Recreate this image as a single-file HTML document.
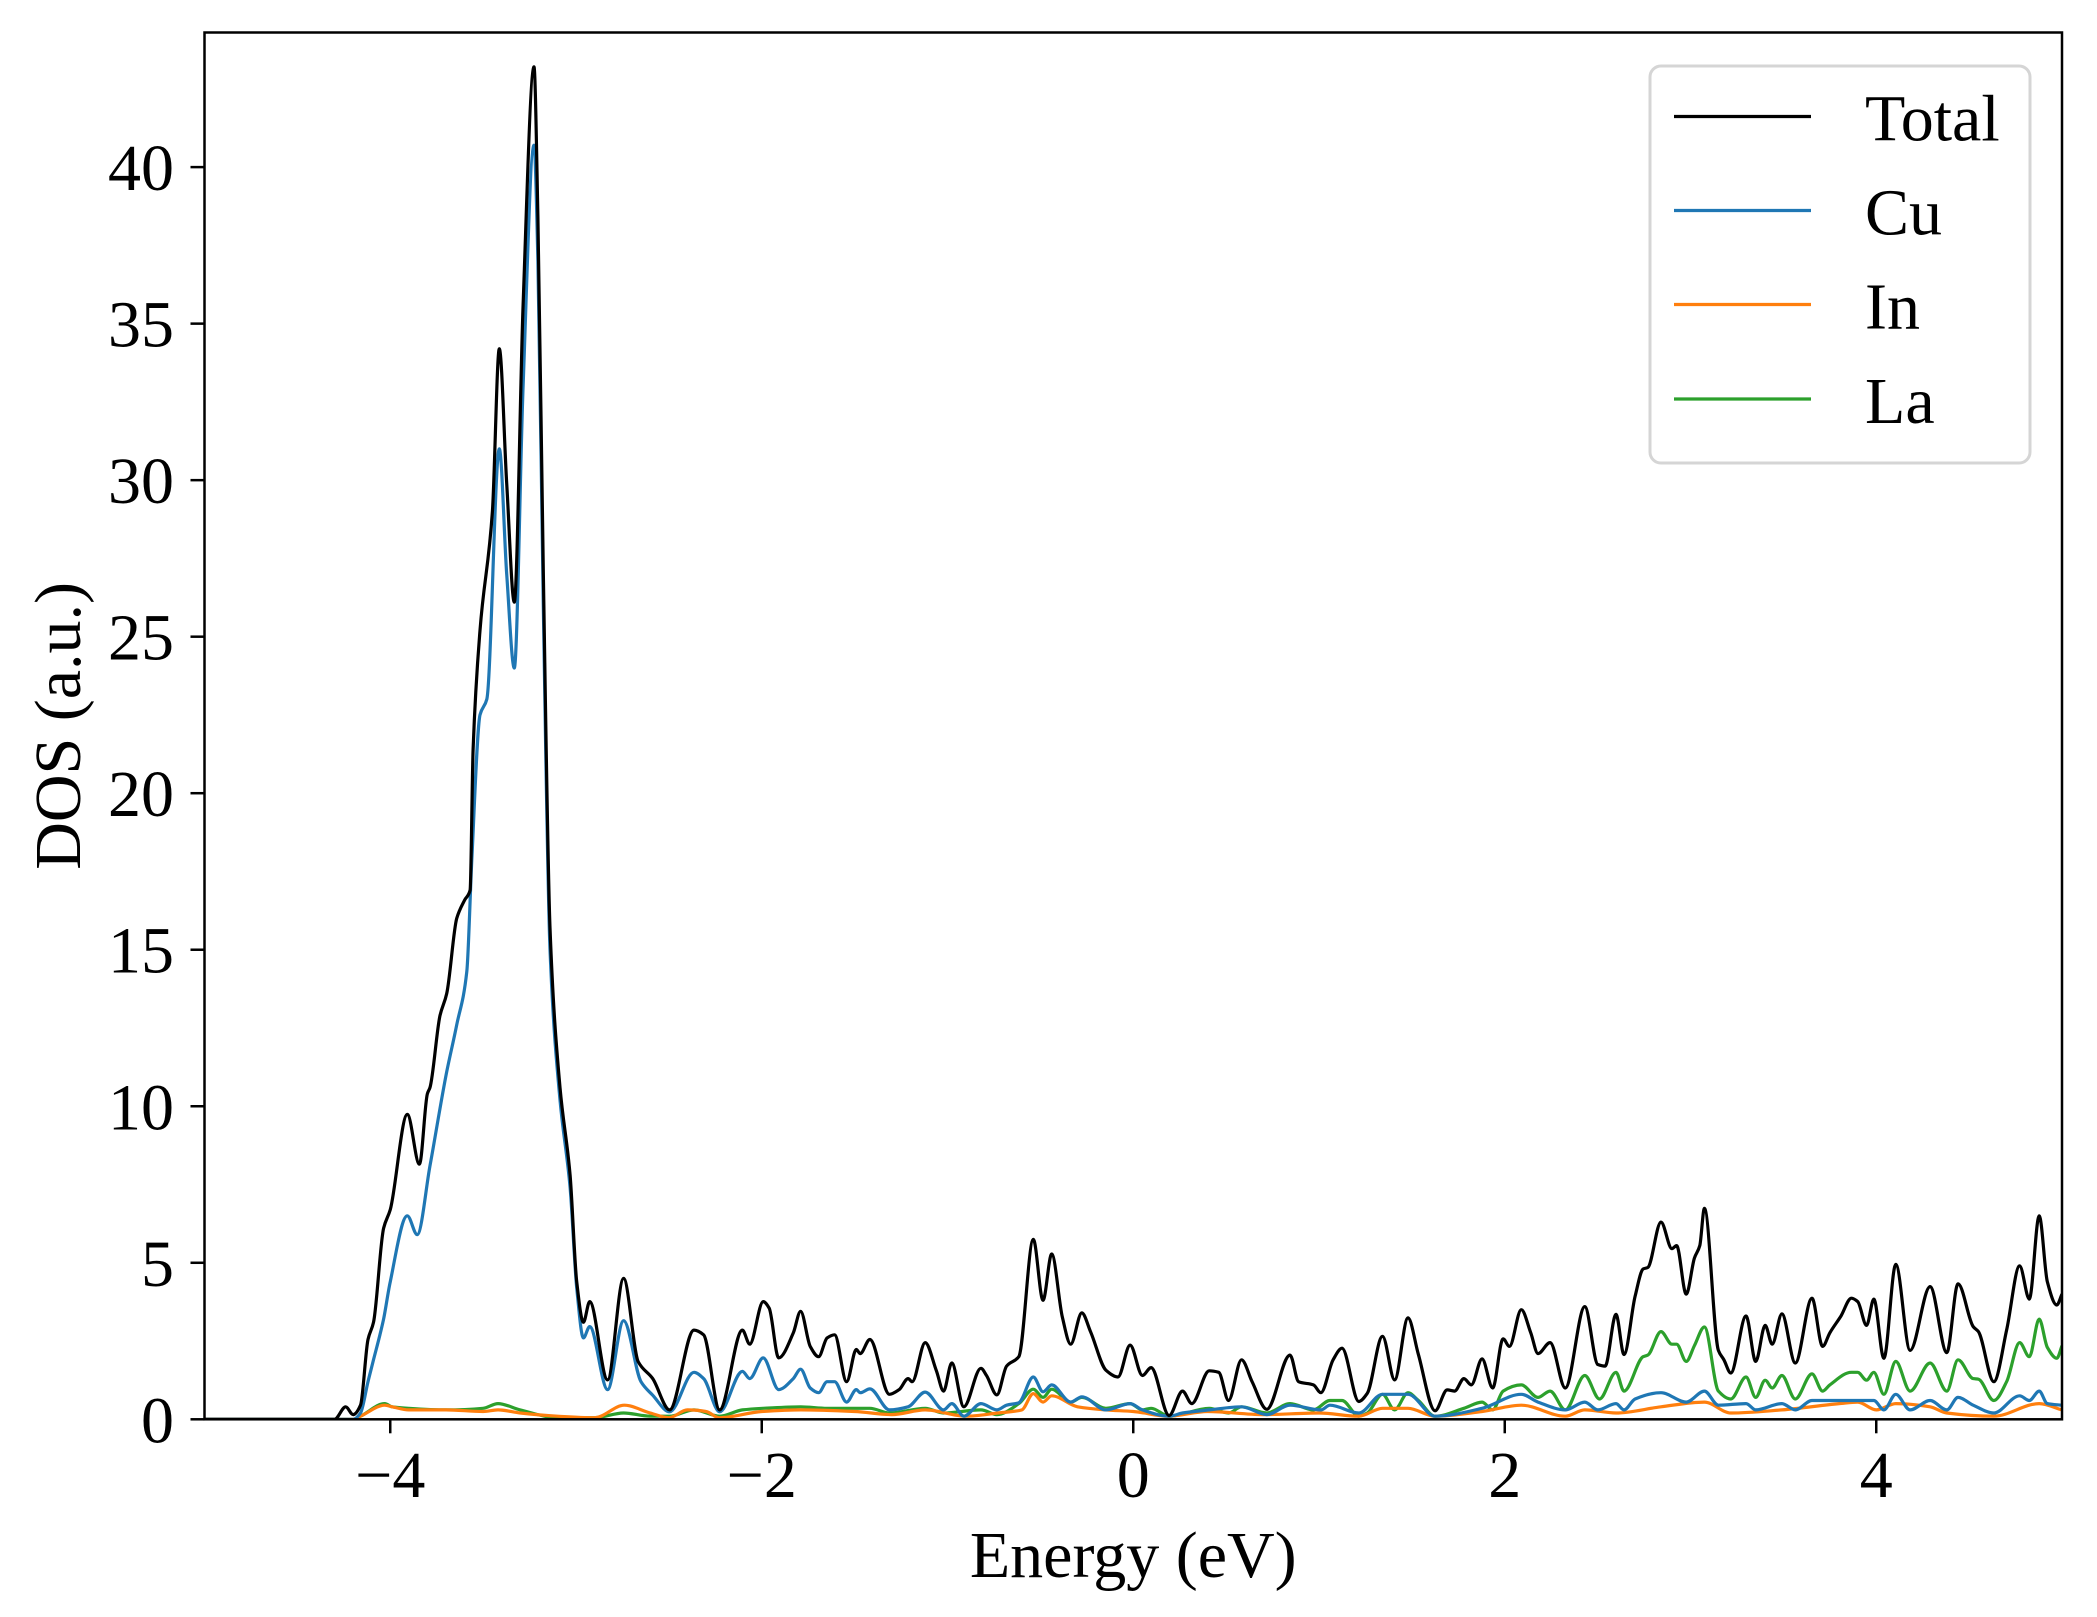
<!DOCTYPE html>
<html><head><meta charset="utf-8"><style>
html,body{margin:0;padding:0;background:#fff}
svg{display:block}
text{font-family:"Liberation Serif","DejaVu Serif",serif;fill:#000}
</style></head><body>
<svg id="chart" width="2097" height="1617" viewBox="0 0 2097 1617" xmlns="http://www.w3.org/2000/svg">
<rect x="0" y="0" width="2097" height="1617" fill="#fff"/>
<g id="series"></g>
<g id="axes"></g>
<g id="legend"></g>
</svg>
<script>
const xTicks = [-4, -2, 0, 2, 4];
const xTickLabels = ["\u22124", "\u22122", "0", "2", "4"];
const yTicks = [0, 5, 10, 15, 20, 25, 30, 35, 40];
const yTickLabels = ["0", "5", "10", "15", "20", "25", "30", "35", "40"];
const seriesNames = ["Total", "Cu", "In", "La"];

const totalE = [-5,-4.3,-4.24,-4.2,-4.16,-4.12,-4.09,-4.036,-4.0,-3.908,-3.843,-3.8,-3.786,-3.732,-3.696,-3.642,-3.598,-3.57,-3.554,-3.517,-3.45,-3.413,-3.373,-3.332,-3.285,-3.226,-3.205,-3.176,-3.14,-3.086,-3.032,-2.996,-2.96,-2.926,-2.83,-2.744,-2.665,-2.587,-2.496,-2.365,-2.313,-2.227,-2.104,-2.065,-1.992,-1.96,-1.909,-1.83,-1.791,-1.739,-1.694,-1.648,-1.608,-1.543,-1.491,-1.47,-1.418,-1.313,-1.26,-1.212,-1.19,-1.12,-1.06,-1.021,-0.977,-0.912,-0.82,-0.79,-0.734,-0.682,-0.616,-0.538,-0.486,-0.439,-0.382,-0.337,-0.277,-0.23,-0.147,-0.082,-0.017,0.049,0.096,0.193,0.265,0.315,0.409,0.46,0.513,0.583,0.64,0.719,0.844,0.89,0.97,1.01,1.076,1.124,1.214,1.26,1.342,1.407,1.479,1.535,1.625,1.69,1.73,1.78,1.82,1.878,1.935,1.991,2.025,2.089,2.14,2.179,2.244,2.326,2.431,2.501,2.54,2.599,2.642,2.702,2.745,2.77,2.841,2.9,2.925,2.977,3.021,3.05,3.075,3.15,3.18,3.217,3.299,3.351,3.402,3.44,3.492,3.564,3.654,3.711,3.75,3.81,3.866,3.9,3.948,3.987,4.041,4.105,4.182,4.29,4.38,4.44,4.522,4.55,4.633,4.702,4.772,4.824,4.877,4.921,4.972,5.0];
const totalV = [0,0,0.4,0.15,0.45,2.55,3.1,6.1,6.7,9.74,8.15,10.4,10.6,12.9,13.6,16.0,16.6,16.9,21.4,25.2,29.0,34.2,29.9,26.1,35.6,43.2,38.4,27.1,15.7,10.6,7.8,4.4,3.1,3.76,1.26,4.5,1.84,1.3,0.3,2.85,2.7,0.3,2.85,2.4,3.76,3.55,1.96,2.76,3.45,2.33,2.0,2.6,2.7,1.2,2.23,2.1,2.55,0.8,0.95,1.3,1.2,2.45,1.55,0.9,1.8,0.4,1.63,1.4,0.78,1.7,2.0,5.75,3.8,5.28,3.27,2.4,3.4,2.8,1.57,1.35,2.37,1.4,1.65,0.12,0.9,0.5,1.55,1.5,0.6,1.9,1.2,0.32,2.05,1.2,1.1,0.85,1.9,2.27,0.57,0.83,2.65,1.26,3.24,2.07,0.27,0.94,0.9,1.3,1.1,1.93,1.0,2.57,2.33,3.5,2.76,2.1,2.45,1.0,3.6,1.75,1.7,3.35,2.07,3.93,4.8,4.85,6.3,5.45,5.55,4.0,5.15,5.55,6.74,2.2,1.9,1.48,3.3,1.85,3.0,2.4,3.37,1.8,3.87,2.33,2.76,3.3,3.87,3.76,3.0,3.84,1.95,4.95,2.2,4.24,2.13,4.33,2.96,2.8,1.2,2.85,4.9,3.84,6.5,4.4,3.65,4.0];

const cuE = [-5,-4.2,-4.16,-4.12,-4.09,-4.036,-4.0,-3.908,-3.855,-3.786,-3.696,-3.642,-3.588,-3.56,-3.517,-3.48,-3.413,-3.373,-3.332,-3.285,-3.226,-3.205,-3.176,-3.14,-3.086,-3.032,-2.996,-2.96,-2.926,-2.83,-2.744,-2.65,-2.587,-2.496,-2.365,-2.313,-2.227,-2.104,-2.065,-1.992,-1.909,-1.83,-1.791,-1.739,-1.694,-1.648,-1.608,-1.543,-1.491,-1.47,-1.418,-1.313,-1.212,-1.12,-1.021,-0.977,-0.912,-0.82,-0.734,-0.682,-0.616,-0.538,-0.486,-0.439,-0.337,-0.277,-0.147,-0.017,0.049,0.193,0.265,0.409,0.583,0.719,0.844,1.01,1.059,1.214,1.342,1.479,1.625,1.878,2.089,2.179,2.326,2.431,2.501,2.599,2.642,2.702,2.841,2.977,3.075,3.15,3.299,3.351,3.492,3.564,3.654,3.866,3.987,4.041,4.105,4.182,4.29,4.38,4.44,4.522,4.633,4.772,4.824,4.877,4.921,5.0];
const cuV = [0,0,0.2,1.2,1.9,3.2,4.4,6.5,5.9,8.1,11.1,12.6,14.3,18,22.5,23,31.0,27,24.0,33,40.7,37,26,15,10.2,7.4,4.2,2.6,2.96,0.95,3.15,1.2,0.77,0.24,1.5,1.3,0.24,1.53,1.3,1.96,0.95,1.3,1.6,1.0,0.85,1.2,1.2,0.55,0.95,0.85,0.97,0.3,0.4,0.87,0.3,0.5,0.1,0.5,0.3,0.45,0.53,1.35,0.88,1.1,0.55,0.72,0.3,0.5,0.3,0.1,0.2,0.3,0.4,0.15,0.45,0.3,0.45,0.2,0.8,0.8,0.1,0.35,0.8,0.55,0.3,0.55,0.3,0.5,0.3,0.65,0.85,0.55,0.9,0.45,0.5,0.3,0.5,0.3,0.6,0.6,0.6,0.3,0.8,0.3,0.6,0.3,0.7,0.45,0.2,0.75,0.6,0.9,0.5,0.45];

const inE = [-5,-4.2,-4.16,-4.03,-3.99,-3.9,-3.7,-3.5,-3.42,-3.3,-3.1,-2.9,-2.74,-2.6,-2.5,-2.4,-2.3,-2.23,-2.0,-1.79,-1.5,-1.3,-1.12,-0.9,-0.73,-0.6,-0.538,-0.486,-0.439,-0.3,-0.15,0.0,0.19,0.4,0.7,1.0,1.214,1.342,1.479,1.625,1.878,2.089,2.326,2.431,2.599,2.841,3.075,3.217,3.492,3.8,3.9,4.0,4.105,4.29,4.38,4.633,4.877,5.0];
const inV = [0,0,0.1,0.45,0.4,0.3,0.3,0.25,0.3,0.2,0.1,0.05,0.45,0.2,0.05,0.3,0.25,0.05,0.25,0.3,0.25,0.15,0.3,0.1,0.2,0.3,0.82,0.55,0.75,0.4,0.3,0.25,0.1,0.25,0.15,0.2,0.1,0.35,0.35,0.1,0.25,0.45,0.1,0.3,0.2,0.4,0.55,0.2,0.3,0.5,0.55,0.3,0.5,0.4,0.2,0.1,0.5,0.3];

const laE = [-5,-4.2,-4.16,-4.03,-3.99,-3.9,-3.7,-3.5,-3.42,-3.3,-3.1,-2.9,-2.744,-2.6,-2.496,-2.365,-2.227,-2.104,-1.992,-1.791,-1.648,-1.418,-1.313,-1.12,-1.021,-0.82,-0.734,-0.616,-0.538,-0.486,-0.439,-0.337,-0.277,-0.147,-0.017,0.049,0.096,0.193,0.409,0.513,0.583,0.719,0.844,0.97,1.059,1.124,1.214,1.26,1.342,1.407,1.479,1.535,1.625,1.78,1.878,1.935,1.991,2.089,2.179,2.244,2.326,2.431,2.51,2.599,2.642,2.745,2.77,2.841,2.9,2.925,2.977,3.021,3.075,3.15,3.217,3.299,3.351,3.402,3.44,3.492,3.564,3.654,3.711,3.75,3.866,3.9,3.948,3.987,4.041,4.105,4.182,4.29,4.38,4.44,4.522,4.55,4.633,4.702,4.772,4.824,4.877,4.921,4.972,5.0];
const laV = [0,0,0.1,0.5,0.4,0.35,0.3,0.35,0.5,0.3,0.05,0.05,0.2,0.1,0.1,0.3,0.1,0.3,0.35,0.4,0.35,0.35,0.2,0.35,0.2,0.3,0.15,0.5,0.96,0.7,0.96,0.55,0.7,0.35,0.5,0.3,0.35,0.1,0.35,0.2,0.4,0.2,0.5,0.3,0.6,0.6,0.1,0.2,0.8,0.3,0.85,0.6,0.1,0.35,0.55,0.3,0.9,1.1,0.7,0.9,0.3,1.4,0.65,1.5,0.9,2.0,2.05,2.8,2.4,2.4,1.85,2.35,2.95,0.9,0.65,1.35,0.7,1.25,1.0,1.4,0.65,1.45,0.9,1.1,1.5,1.5,1.25,1.5,0.8,1.85,0.9,1.8,0.9,1.9,1.3,1.28,0.6,1.2,2.45,2.0,3.2,2.3,1.95,2.35];

const PL = 204.5, PR = 2062, PT = 32.5, PB = 1419.3;
const XMIN = -5, XMAX = 5, YMIN = 0, YMAX = 44.3;
function xs(e){ return PL + (e - XMIN) / (XMAX - XMIN) * (PR - PL); }
function ys(v){ return PB - (v - YMIN) / (YMAX - YMIN) * (PB - PT); }
const NS = "http://www.w3.org/2000/svg";
function mk(tag, attrs, parent){
  const el = document.createElementNS(NS, tag);
  for (const k in attrs) el.setAttribute(k, attrs[k]);
  parent.appendChild(el);
  return el;
}
const seriesG = document.getElementById('series');
const axesG = document.getElementById('axes');
const legendG = document.getElementById('legend');

const defs = mk('defs', {}, seriesG);
const cp = mk('clipPath', {id: 'plotclip'}, defs);
mk('rect', {x: PL, y: PT, width: PR - PL, height: PB - PT}, cp);

// monotone cubic path (Fritsch-Carlson) through the data points
function monotonePath(E, V){
  const X = E.map(xs), Y = V.map(ys), n = X.length;
  const d = [], m = new Array(n);
  for (let i = 0; i < n - 1; i++) d.push((Y[i+1] - Y[i]) / (X[i+1] - X[i]));
  m[0] = d[0]; m[n-1] = d[n-2];
  for (let i = 1; i < n - 1; i++) {
    if (d[i-1] * d[i] <= 0) m[i] = 0;
    else { const h0 = X[i]-X[i-1], h1 = X[i+1]-X[i];
      const w1 = 2*h1 + h0, w2 = h1 + 2*h0;
      m[i] = (w1 + w2) / (w1 / d[i-1] + w2 / d[i]); }
  }
  let p = 'M' + X[0].toFixed(1) + ',' + Y[0].toFixed(1);
  for (let i = 0; i < n - 1; i++) {
    const h = (X[i+1] - X[i]) / 3;
    p += ' C' + (X[i]+h).toFixed(1) + ',' + (Y[i]+m[i]*h).toFixed(1) + ' ' +
         (X[i+1]-h).toFixed(1) + ',' + (Y[i+1]-m[i+1]*h).toFixed(1) + ' ' +
         X[i+1].toFixed(1) + ',' + Y[i+1].toFixed(1);
  }
  return p;
}
function drawSeries(E, V, color, name, w){
  const pl = mk('path', {d: monotonePath(E, V), fill: 'none', stroke: color, 'stroke-width': w, 'stroke-linejoin': 'round', 'clip-path': 'url(#plotclip)'}, seriesG);
  
  
}
drawSeries(laE, laV, '#2ca02c', 'la-line', 3.2);
drawSeries(inE, inV, '#ff7f0e', 'in-line', 3.2);
drawSeries(cuE, cuV, '#1f77b4', 'cu-line', 3.2);
drawSeries(totalE, totalV, '#000000', 'total-line', 3.2);

const frame = mk('rect', {x: PL, y: PT, width: PR - PL, height: PB - PT, fill: 'none', stroke: '#000', 'stroke-width': 2.5}, axesG);



xTicks.forEach((t, i) => {
  const x = xs(t);
  const tk = mk('line', {x1: x, y1: PB, x2: x, y2: PB + 14, stroke: '#000', 'stroke-width': 2.5}, axesG);
  
  
  const lb = mk('text', {x: x, y: 1497, 'font-size': 66, 'text-anchor': 'middle'}, axesG);
  lb.textContent = xTickLabels[i];
  
  
});
yTicks.forEach((t, i) => {
  const y = ys(t);
  const tk = mk('line', {x1: PL - 14, y1: y, x2: PL, y2: y, stroke: '#000', 'stroke-width': 2.5}, axesG);
  
  
  const lb = mk('text', {x: 174, y: y + 23, 'font-size': 66, 'text-anchor': 'end'}, axesG);
  lb.textContent = yTickLabels[i];
  
  
});
const xt = mk('text', {x: (PL + PR) / 2, y: 1577, 'font-size': 66, 'text-anchor': 'middle'}, axesG);
xt.textContent = 'Energy (eV)';


const yt = mk('text', {x: 0, y: 0, 'font-size': 66, 'text-anchor': 'middle', transform: 'translate(80,' + ((PT + PB) / 2) + ') rotate(-90)'}, axesG);
yt.textContent = 'DOS (a.u.)';



const lbox = mk('rect', {x: 1650, y: 66, width: 380, height: 397, rx: 11, fill: '#fff', 'fill-opacity': 0.8, stroke: '#d5d5d5', 'stroke-width': 3}, legendG);


const legColors = ['#000000', '#1f77b4', '#ff7f0e', '#2ca02c'];
const legLineY = [116.5, 210.5, 304.5, 399];
seriesNames.forEach((n, i) => {
  const ln = mk('line', {x1: 1674, y1: legLineY[i], x2: 1811, y2: legLineY[i], stroke: legColors[i], 'stroke-width': 3.2}, legendG);
  
  
  const tx = mk('text', {x: 1865, y: legLineY[i] + 24, 'font-size': 66}, legendG);
  tx.textContent = n;
  
  
});
</script>
</body></html>
